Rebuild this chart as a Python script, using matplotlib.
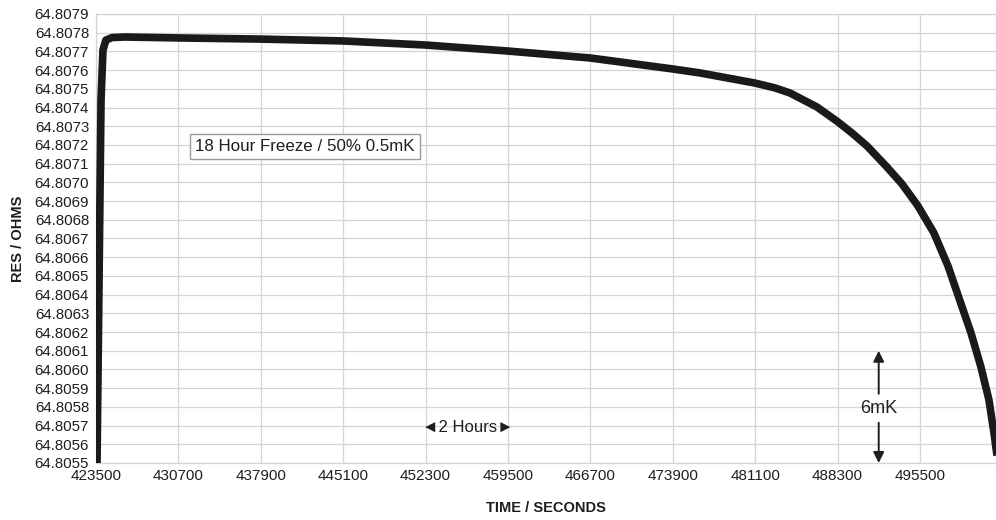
import matplotlib
matplotlib.use("Agg")
import matplotlib.pyplot as plt
from matplotlib.ticker import FixedLocator, FormatStrFormatter

plt.rcParams["font.family"] = ["Liberation Sans", "DejaVu Sans"]

# ── Data ─────────────────────────────────────────────────────────────────────
time_s = [423590, 423940, 424110, 424370, 424900, 426030, 430750, 437830,
          445080, 452340, 459500, 466670, 473920, 476280, 481080, 482830,
          484140, 486500, 488340, 489560, 490870, 492530, 493930, 495330,
          496720, 497950, 498910, 499960, 500830, 501530, 501970, 502230,
          502400]
res_ohm = [64.805500, 64.807441, 64.807708, 64.807761, 64.807774, 64.807777,
           64.807772, 64.807766, 64.807756, 64.807734, 64.807702, 64.807665,
           64.807606, 64.807585, 64.807531, 64.807505, 64.807478, 64.807403,
           64.807323, 64.807264, 64.807195, 64.807088, 64.806992, 64.806874,
           64.806730, 64.806554, 64.806383, 64.806196, 64.806014, 64.805838,
           64.805662, 64.805544, 64.805437]

x_ticks = [423500, 430700, 437900, 445100, 452300, 459500, 466700, 473900,
           481100, 488300, 495500]
y_ticks = [round(64.8055 + 0.0001 * i, 4) for i in range(25)]

box_label = "18 Hour Freeze / 50% 0.5mK"
hours_label = "\u25c42 Hours\u25ba"
mk_label = "6mK"

# ── Figure ───────────────────────────────────────────────────────────────────
fig = plt.figure(figsize=(9.96, 5.2), dpi=100)
ax = fig.add_axes([96 / 996, 1 - 463 / 520, 1 - 96 / 996, (463 - 14) / 520])

ax.plot(time_s, res_ohm, color="#1a1a1a", lw=5.5,
        solid_joinstyle="round", solid_capstyle="butt", zorder=3)

ax.set_xlim(423500, 502150)
ax.set_ylim(64.8055, 64.8079)
ax.xaxis.set_major_locator(FixedLocator(x_ticks))
ax.yaxis.set_major_locator(FixedLocator(y_ticks))
ax.yaxis.set_major_formatter(FormatStrFormatter("%.4f"))
ax.set_xticklabels([str(t) for t in x_ticks])

ax.grid(True, color="#d4d4d4", lw=0.9)
ax.set_axisbelow(True)
for s in ax.spines.values():
    s.set_color("#d4d4d4")
    s.set_linewidth(0.9)

ax.tick_params(axis="both", length=0, colors="#1e1e1e")
ax.tick_params(axis="y", labelsize=10.8, pad=5)
ax.tick_params(axis="x", labelsize=11, pad=4)

ax.set_xlabel("TIME / SECONDS", fontsize=10.5, fontweight="bold",
              labelpad=13, color="#1e1e1e")
ax.set_ylabel("RES / OHMS", fontsize=10.5, fontweight="bold",
              labelpad=7, color="#1e1e1e")

# annotation box
ax.text(441760, 64.80719, box_label, fontsize=12.2, ha="center", va="center",
        color="#1e1e1e",
        bbox=dict(boxstyle="square,pad=0.3", fc="white", ec="#9a9a9a", lw=1))

# 2 hours marker
ax.text(456000, 64.80569, hours_label, fontsize=12, ha="center", va="center",
        color="#1e1e1e")

# 6mK span
x_mk = 491900
arrow = dict(arrowstyle="-|>", color="#1e1e1e", lw=1.4,
             mutation_scale=16, shrinkA=0, shrinkB=0)
ax.annotate("", xy=(x_mk, 64.8061), xytext=(x_mk, 64.80587), arrowprops=arrow)
ax.annotate("", xy=(x_mk, 64.8055), xytext=(x_mk, 64.805715), arrowprops=arrow)
ax.text(x_mk, 64.80579, mk_label, fontsize=13, ha="center", va="center",
        color="#1e1e1e")

fig.savefig("out.png", dpi=100, facecolor="white")
